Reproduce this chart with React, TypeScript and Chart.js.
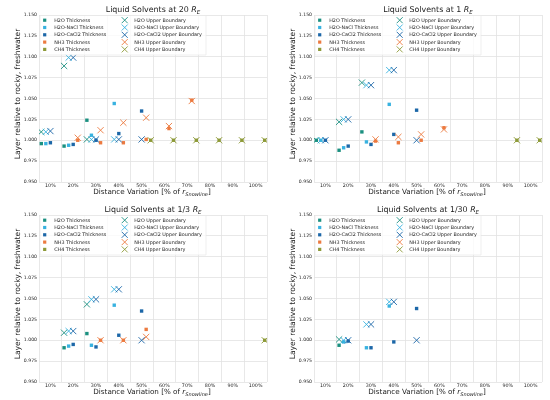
import React, { useEffect, useRef } from "react";
import { Chart, registerables } from "chart.js";
Chart.register(...registerables);

const FONT = "'DejaVu Sans', 'Liberation Sans', sans-serif";

const SERIES_NAMES = ["H2O", "H2O-NaCl", "H2O-CaCl2", "NH3", "CH4"];
const SERIES_COLORS = ["#1b9080", "#38b2e0", "#1c67a8", "#ec7a40", "#8d9a38"];

const X_TICKS = [5, 10, 15, 20, 25, 30, 35, 40, 45, 50, 55, 60, 65, 70, 75, 80, 85, 90, 95, 100, 105];
const Y_TICKS = [0.95, 0.975, 1.0, 1.025, 1.05, 1.075, 1.1, 1.125, 1.15];

const Y_TITLE = "Layer relative to rocky, freshwater";

// ---- Panel: 20 R_E ----
const A_H2O_X = [6, 16, 26];
const A_H2O_TH = [0.996, 0.993, 1.024];
const A_H2O_UB = [1.010, 1.089, 1.001];
const A_NACL_X = [8, 18, 28, 38];
const A_NACL_TH = [0.996, 0.994, 1.006, 1.044];
const A_NACL_UB = [1.010, 1.099, 1.001, 1.001];
const A_CACL_X = [10, 20, 30, 40, 50];
const A_CACL_TH = [0.997, 0.995, 1.000, 1.008, 1.035];
const A_CACL_UB = [1.011, 1.099, 1.001, 1.001, 1.001];
const A_NH3_X = [22, 32, 42, 52, 62, 72];
const A_NH3_TH = [1.000, 0.997, 0.997, 1.001, 1.014, 1.048];
const A_NH3_UB = [1.003, 1.012, 1.021, 1.027, 1.017, 1.047];
const A_CH4_X = [54, 64, 74, 84, 94, 104];
const A_CH4_TH = [1.000, 1.000, 1.000, 1.000, 1.000, 1.000];
const A_CH4_UB = [1.000, 1.000, 1.000, 1.000, 1.000, 1.000];

// ---- Panel: 1 R_E ----
const B_H2O_X = [6, 16, 26];
const B_H2O_TH = [1.000, 0.988, 1.010];
const B_H2O_UB = [1.000, 1.022, 1.069];
const B_NACL_X = [8, 18, 28, 38];
const B_NACL_TH = [1.000, 0.991, 0.998, 1.043];
const B_NACL_UB = [1.000, 1.025, 1.066, 1.084];
const B_CACL_X = [10, 20, 30, 40, 50];
const B_CACL_TH = [1.000, 0.993, 0.995, 1.007, 1.036];
const B_CACL_UB = [1.000, 1.025, 1.066, 1.084, 1.000];
const B_NH3_X = [32, 42, 52, 62];
const B_NH3_TH = [0.999, 0.997, 1.000, 1.015];
const B_NH3_UB = [1.001, 1.004, 1.007, 1.013];
const B_CH4_X = [94, 104];
const B_CH4_TH = [1.000, 1.000];
const B_CH4_UB = [1.000, 1.000];

// ---- Panel: 1/3 R_E ----
const C_H2O_X = [16, 26];
const C_H2O_TH = [0.991, 1.008];
const C_H2O_UB = [1.009, 1.043];
const C_NACL_X = [18, 28, 38];
const C_NACL_TH = [0.993, 0.994, 1.042];
const C_NACL_UB = [1.011, 1.049, 1.061];
const C_CACL_X = [20, 30, 40, 50];
const C_CACL_TH = [0.995, 0.992, 1.006, 1.035];
const C_CACL_UB = [1.011, 1.049, 1.061, 1.000];
const C_NH3_X = [32, 42, 52];
const C_NH3_TH = [1.000, 1.000, 1.013];
const C_NH3_UB = [1.000, 1.000, 1.004];
const C_CH4_X = [104];
const C_CH4_TH = [1.000];
const C_CH4_UB = [1.000];

// ---- Panel: 1/30 R_E ----
const D_H2O_X = [16];
const D_H2O_TH = [0.994];
const D_H2O_UB = [1.001];
const D_NACL_X = [18, 28, 38];
const D_NACL_TH = [0.998, 0.991, 1.041];
const D_NACL_UB = [1.000, 1.019, 1.046];
const D_CACL_X = [20, 30, 40, 50];
const D_CACL_TH = [0.999, 0.991, 0.998, 1.038];
const D_CACL_UB = [1.000, 1.019, 1.046, 1.000];
const D_NH3_X: number[] = [];
const D_NH3_TH: number[] = [];
const D_NH3_UB: number[] = [];
const D_CH4_X: number[] = [];
const D_CH4_TH: number[] = [];
const D_CH4_UB: number[] = [];

type PanelDef = { label: string; xs: number[][]; th: number[][]; ub: number[][] };

const PANELS: PanelDef[] = [
  { label: "20", xs: [A_H2O_X, A_NACL_X, A_CACL_X, A_NH3_X, A_CH4_X], th: [A_H2O_TH, A_NACL_TH, A_CACL_TH, A_NH3_TH, A_CH4_TH], ub: [A_H2O_UB, A_NACL_UB, A_CACL_UB, A_NH3_UB, A_CH4_UB] },
  { label: "1", xs: [B_H2O_X, B_NACL_X, B_CACL_X, B_NH3_X, B_CH4_X], th: [B_H2O_TH, B_NACL_TH, B_CACL_TH, B_NH3_TH, B_CH4_TH], ub: [B_H2O_UB, B_NACL_UB, B_CACL_UB, B_NH3_UB, B_CH4_UB] },
  { label: "1/3", xs: [C_H2O_X, C_NACL_X, C_CACL_X, C_NH3_X, C_CH4_X], th: [C_H2O_TH, C_NACL_TH, C_CACL_TH, C_NH3_TH, C_CH4_TH], ub: [C_H2O_UB, C_NACL_UB, C_CACL_UB, C_NH3_UB, C_CH4_UB] },
  { label: "1/30", xs: [D_H2O_X, D_NACL_X, D_CACL_X, D_NH3_X, D_CH4_X], th: [D_H2O_TH, D_NACL_TH, D_CACL_TH, D_NH3_TH, D_CH4_TH], ub: [D_H2O_UB, D_NACL_UB, D_CACL_UB, D_NH3_UB, D_CH4_UB] },
];

type Part = { text: string; italic?: boolean; sub?: boolean };

function drawRich(ctx: CanvasRenderingContext2D, parts: Part[], cx: number, cy: number, size: number, color: string) {
  const fonts = parts.map((p) => `${p.italic ? "italic " : ""}${p.sub ? size * 0.7 : size}px ${FONT}`);
  const widths = parts.map((p, i) => {
    ctx.font = fonts[i];
    return ctx.measureText(p.text).width;
  });
  const total = widths.reduce((a, b) => a + b, 0);
  let x = cx - total / 2;
  const base = cy + size * 0.36;
  ctx.fillStyle = color;
  ctx.textAlign = "left";
  ctx.textBaseline = "alphabetic";
  parts.forEach((p, i) => {
    ctx.font = fonts[i];
    ctx.fillText(p.text, x, base + (p.sub ? size * 0.22 : 0));
    x += widths[i];
  });
}

function makeDecor(panel: PanelDef) {
  return {
    id: "decor",
    afterDraw(chart: any) {
      const ctx: CanvasRenderingContext2D = chart.ctx;
      const area = chart.chartArea;
      ctx.save();
      // title
      drawRich(ctx, [{ text: `Liquid Solvents at ${panel.label} ` }, { text: "R", italic: true }, { text: "E", italic: true, sub: true }], (area.left + area.right) / 2, 9.5, 7.9, "#1a1a1a");
      // x title
      drawRich(ctx, [{ text: "Distance Variation [% of " }, { text: "r", italic: true }, { text: "Snowline", italic: true, sub: true }, { text: "]" }], (area.left + area.right) / 2 - 1, 191.5, 7.2, "#1a1a1a");
      // y title
      ctx.save();
      ctx.translate(18, 94);
      ctx.rotate(-Math.PI / 2);
      ctx.font = `7.6px ${FONT}`;
      ctx.fillStyle = "#1a1a1a";
      ctx.textAlign = "center";
      ctx.textBaseline = "middle";
      ctx.fillText(Y_TITLE, 0, 0);
      ctx.restore();

      // legend
      const lx = area.left + 1;
      const ly = area.top + 0.5;
      ctx.fillStyle = "rgba(255,255,255,0.8)";
      ctx.strokeStyle = "#e4e4e4";
      ctx.lineWidth = 0.6;
      ctx.beginPath();
      ctx.rect(lx, ly, 166, 39.5);
      ctx.fill();
      ctx.stroke();
      const ds = chart.data.datasets;
      ds.forEach((d: any, k: number) => {
        const col = k < 5 ? 0 : 1;
        const row = k % 5;
        const mx = area.left + 5.7 + col * 80;
        const my = area.top + 5.2 + row * 7.3;
        const c = d.borderColor;
        if (d.pointStyle === "rect") {
          ctx.fillStyle = d.backgroundColor;
          ctx.fillRect(mx - 1.6, my - 1.6, 3.2, 3.2);
        } else {
          ctx.strokeStyle = c;
          ctx.lineWidth = 0.9;
          ctx.beginPath();
          ctx.moveTo(mx - 3, my - 3);
          ctx.lineTo(mx + 3, my + 3);
          ctx.moveTo(mx - 3, my + 3);
          ctx.lineTo(mx + 3, my - 3);
          ctx.stroke();
        }
        ctx.fillStyle = "#222";
        ctx.font = `4.85px ${FONT}`;
        ctx.textAlign = "left";
        ctx.textBaseline = "middle";
        ctx.fillText(d.label, mx + 9.5, my + 0.2);
      });
      ctx.restore();
    },
  };
}

function Panel({ panel }: { panel: PanelDef }) {
  const ref = useRef<HTMLCanvasElement>(null);
  useEffect(() => {
    if (!ref.current) return;
    const datasets: any[] = [];
    SERIES_NAMES.forEach((name, i) => {
      datasets.push({
        label: `${name} Thickness`,
        data: panel.xs[i].map((x, j) => ({ x, y: panel.th[i][j] })),
        pointStyle: "rect",
        pointRadius: 2.4,
        pointHoverRadius: 2.4,
        backgroundColor: SERIES_COLORS[i],
        borderColor: SERIES_COLORS[i],
        borderWidth: 0,
        showLine: false,
      });
    });
    SERIES_NAMES.forEach((name, i) => {
      datasets.push({
        label: `${name} Upper Boundary`,
        data: panel.xs[i].map((x, j) => ({ x, y: panel.ub[i][j] })),
        pointStyle: "crossRot",
        pointRadius: 4.4,
        pointHoverRadius: 4.4,
        backgroundColor: "transparent",
        borderColor: SERIES_COLORS[i],
        borderWidth: 0.9,
        showLine: false,
      });
    });
    datasets.forEach((d, k) => (d.order = -k));

    const gridColor = "#e2e2e2";
    const chart = new Chart(ref.current, {
      type: "scatter",
      data: { datasets },
      options: {
        animation: false,
        responsive: false,
        maintainAspectRatio: false,
        events: [],
        layout: { padding: { top: 15, right: 8, left: 0, bottom: 0 } },
        plugins: {
          legend: { display: false },
          title: { display: false },
          tooltip: { enabled: false },
        },
        scales: {
          x: {
            type: "linear",
            min: 5,
            max: 105,
            afterBuildTicks: (axis: any) => {
              axis.ticks = X_TICKS.map((v) => ({ value: v }));
            },
            afterFit: (s: any) => {
              s.height = 18;
            },
            border: { display: false },
            grid: {
              drawTicks: false,
              lineWidth: 0.8,
              color: (c: any) => (c.tick && c.tick.value % 10 === 5 ? gridColor : "rgba(0,0,0,0)"),
            },
            ticks: {
              autoSkip: false,
              maxRotation: 0,
              minRotation: 0,
              padding: 0.5,
              color: "#222",
              font: { family: FONT, size: 4.8 },
              callback: (v: any) => (Number(v) % 10 === 0 ? `${v}%` : ""),
            },
          },
          y: {
            type: "linear",
            min: 0.95,
            max: 1.15,
            afterBuildTicks: (axis: any) => {
              axis.ticks = Y_TICKS.map((v) => ({ value: v }));
            },
            afterFit: (s: any) => {
              s.width = 39;
            },
            border: { display: false },
            grid: { drawTicks: false, lineWidth: 0.8, color: gridColor },
            ticks: {
              padding: 2,
              color: "#222",
              font: { family: FONT, size: 4.6 },
              callback: (v: any) => Number(v).toFixed(3),
            },
          },
        },
      },
      plugins: [makeDecor(panel)],
    } as any);
    return () => chart.destroy();
  }, [panel]);
  return <canvas ref={ref} width={275} height={200} style={{ display: "block", width: 275, height: 200 }} />;
}

export default function App() {
  return (
    <div
      style={{
        position: "absolute",
        left: 0,
        top: 0,
        width: 550,
        height: 400,
        background: "#fff",
        display: "grid",
        gridTemplateColumns: "275px 275px",
        gridTemplateRows: "200px 200px",
      }}
    >
      {PANELS.map((p) => (
        <Panel key={p.label} panel={p} />
      ))}
    </div>
  );
}
